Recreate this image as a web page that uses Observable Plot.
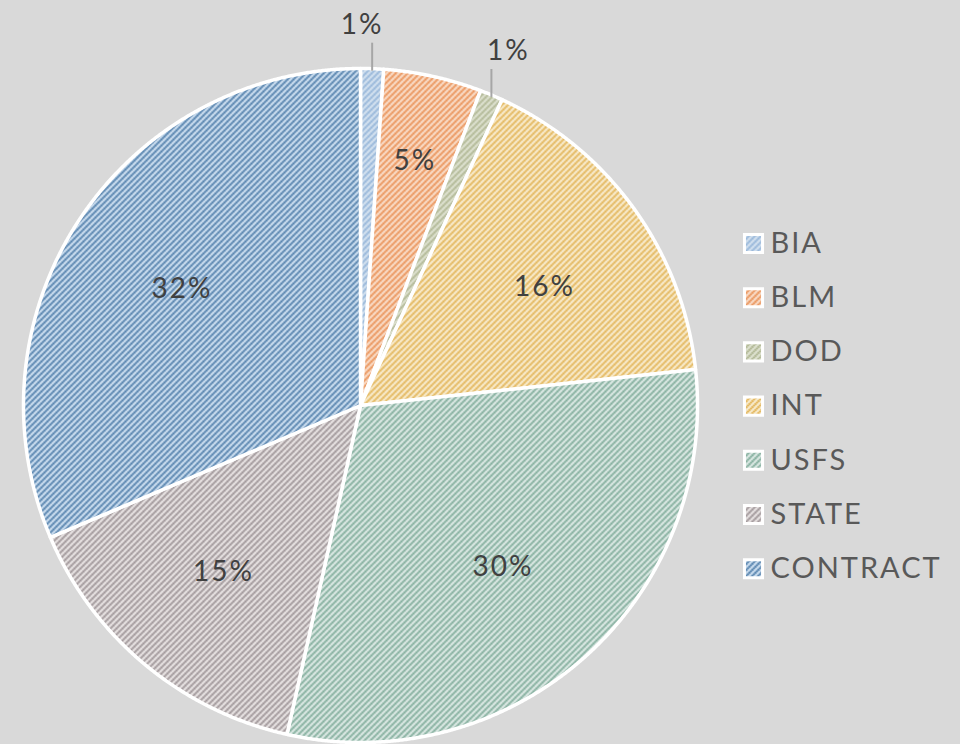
<!DOCTYPE html>
<html>
<head>
<meta charset="utf-8">
<script src="https://cdn.jsdelivr.net/npm/d3@7"></script>
<script src="https://cdn.jsdelivr.net/npm/@observablehq/plot@0.6"></script>
<style>
  html, body { margin: 0; padding: 0; background: #d9d9d9; }
  #chart svg { display: block; background: #d9d9d9; }
  #chart text { letter-spacing: 2px; }
</style>
</head>
<body>
<svg width="0" height="0" style="position:absolute">
  <defs id="patterns"></defs>
</svg>
<div id="chart"></div>
<script>
// ---- data ----
const categories = ["BIA", "BLM", "DOD", "INT", "USFS", "STATE", "CONTRACT"];
const values = [1.1, 4.7, 1.1, 16.4, 30.2, 15.1, 31.4];
const labels = ["1%", "5%", "1%", "16%", "30%", "15%", "32%"];

// ---- styles ----
const stripeColors = ["#82a8d2", "#e57c36", "#a3ab83", "#dca536", "#659a85", "#867c7f", "#2c6296"];
const backColors   = ["#d3e1ef", "#f9dcc8", "#dde1cf", "#f8ebcd", "#dce9e4", "#e8e3e3", "#cddff0"];
const fontFamily = "Lato, 'Noto Sans', sans-serif";

// ---- layout ----
const W = 960, H = 744;
const cx = 360, cy = 405, R = 337;
const labelNudge = {INT: [10, -4]}; // pixel nudges for label placement

// hatch patterns
const defs = d3.select("#patterns");
categories.forEach((c, i) => {
  const p = defs.append("pattern")
    .attr("id", "hatch" + i)
    .attr("patternUnits", "userSpaceOnUse")
    .attr("width", 6).attr("height", 6);
  p.append("rect").attr("width", 6).attr("height", 6).attr("fill", backColors[i]);
  p.append("path")
    .attr("d", "M0,6 L6,0 M-1.5,1.5 L1.5,-1.5 M4.5,7.5 L7.5,4.5")
    .attr("stroke", stripeColors[i])
    .attr("stroke-width", 2)
    .attr("stroke-dasharray", "1.5,0.6");
});
const patternUrls = categories.map((c, i) => `url(#hatch${i})`);

// pie geometry in unit-circle coordinates (y up)
const arcs = d3.pie().sort(null).value(d => d)(values);
const slicePts = [];
arcs.forEach((a, i) => {
  const key = categories[i];
  slicePts.push({key, x: 0, y: 0});
  const n = Math.max(4, Math.ceil((a.endAngle - a.startAngle) / 0.004));
  for (let k = 0; k <= n; k++) {
    const t = a.startAngle + (a.endAngle - a.startAngle) * k / n;
    slicePts.push({key, x: Math.sin(t), y: Math.cos(t)});
  }
});

// labels
const inside = [], outside = [], leaders = [];
const outsideShift = {BIA: -10, DOD: 17};
arcs.forEach((a, i) => {
  const m = (a.startAngle + a.endAngle) / 2;
  const key = categories[i];
  if (values[i] < 3) {
    const px = Math.sin(m), py = Math.cos(m);
    const top = py + 26 / R;
    leaders.push({x1: px, y1: py - 2 / R, x2: px, y2: top});
    outside.push({x: px + (outsideShift[key] || 0) / R, y: top + 18 / R, text: labels[i]});
  } else {
    const f = values[i] < 8 ? 0.75 : 0.635;
    const [nx, ny] = labelNudge[key] || [0, 0];
    inside.push({x: f * Math.sin(m) + nx / R, y: f * Math.cos(m) - 2 / R + ny / R, text: labels[i]});
  }
});

// legend (positioned in pixel layout, converted to data units)
const lgX = 753, lgY0 = 243, lgStep = 54.2;
const legend = categories.map((c, i) => ({
  key: c,
  x: (lgX - cx) / R,
  y: (cy - (lgY0 + i * lgStep)) / R
}));

const chart = Plot.plot({
  width: W, height: H,
  margin: 0,
  style: {background: "#d9d9d9"},
  x: {domain: [-cx / R, (W - cx) / R], range: [0, W], axis: null},
  y: {domain: [-(H - cy) / R, cy / R], range: [H, 0], axis: null},
  color: {type: "ordinal", domain: categories, range: patternUrls},
  marks: [
    Plot.line(slicePts, {
      x: "x", y: "y", z: "key", fill: "key",
      stroke: "white", strokeWidth: 3.5, strokeLinejoin: "round",
      curve: "linear-closed"
    }),
    Plot.link(leaders, {x1: "x1", y1: "y1", x2: "x2", y2: "y2", stroke: "#a6a6a6", strokeWidth: 2}),
    Plot.text(inside, {x: "x", y: "y", text: "text", fontSize: 28, fill: "#404040", fontFamily}),
    Plot.text(outside, {x: "x", y: "y", text: "text", fontSize: 28, fill: "#404040", fontFamily}),
    Plot.dot(legend, {
      x: "x", y: "y", fill: "key", symbol: "square", r: 10.2,
      stroke: "white", strokeWidth: 3
    }),
    Plot.text(legend, {
      x: "x", y: "y", text: "key", dx: 17, textAnchor: "start",
      fontSize: 29, fill: "#595959", fontFamily
    })
  ]
});
document.getElementById("chart").appendChild(chart);
</script>
</body>
</html>
